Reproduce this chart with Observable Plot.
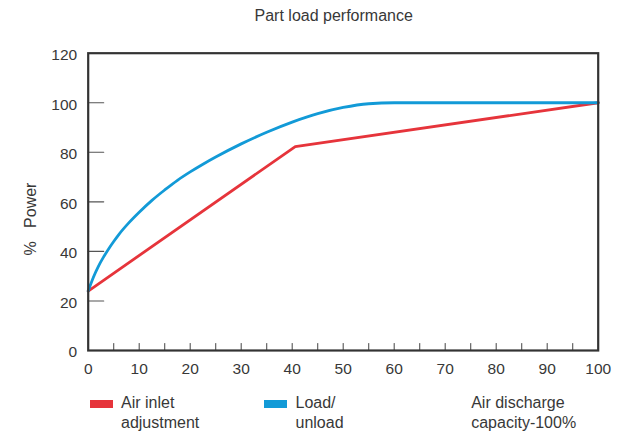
<!DOCTYPE html>
<html>
<head>
<meta charset="utf-8">
<script src="https://cdn.jsdelivr.net/npm/d3@7"></script>
<script src="https://cdn.jsdelivr.net/npm/@observablehq/plot@0.6"></script>
<style>
  html, body { margin: 0; padding: 0; background: #fff; }
  #wrap { position: relative; width: 639px; height: 434px; font-family: "Liberation Sans", Arial, Helvetica, sans-serif; color: #383838; }
  #wrap svg { position: absolute; left: 0; top: 0; }
  .title { position: absolute; top: 6px; left: 333.7px; transform: translateX(-50%); font-size: 16px; line-height: 20px; white-space: nowrap; }
  .ylab { position: absolute; left: 30.9px; top: 219px; transform: translate(-50%, -50%) rotate(-90deg); font-size: 16px; line-height: 16px; white-space: pre; }
  .leg { position: absolute; top: 392.8px; font-size: 16px; line-height: 19.8px; white-space: nowrap; }
  .sw { position: absolute; top: 400.3px; width: 23px; height: 7.4px; }
</style>
</head>
<body>
<div id="wrap"></div>
<script>
// ---- data ----
const titleText = "Part load performance";
const yLabel = "%   Power";
const xTicks = [0, 10, 20, 30, 40, 50, 60, 70, 80, 90, 100];
const yTicks = [0, 20, 40, 60, 80, 100, 120];
const xMinorTicks = [5, 10, 15, 20, 25, 30, 35, 40, 45, 50, 55, 60, 65, 70, 75, 80, 85, 90, 95];
const yInnerTicks = [20, 40, 60, 80, 100];

// Air inlet adjustment (red)
const inletX = [0, 40.6, 100];
const inletY = [24, 82.3, 100];

// Load/unload (blue)
const loadX = [0, 1, 2, 3, 4, 5, 6, 8, 10, 12.5, 15, 17.5, 20, 22.5, 25, 30, 35, 40, 45, 50, 55, 60, 100];
const loadY = [24, 29.5, 34, 37.7, 41, 44, 46.8, 51.6, 55.8, 60.6, 64.8, 68.7, 72.1, 75.2, 78.1, 83.4, 88.1, 92.2, 95.6, 98.1, 99.6, 100, 100];

const legendItems = [
  {label: ["Air inlet", "adjustment"], color: "#e6343b"},
  {label: ["Load/", "unload"], color: "#129ad7"},
  {label: ["Air discharge", "capacity-100%"], color: null}
];

const inlet = inletX.map((x, i) => ({x, y: inletY[i]}));
const load = loadX.map((x, i) => ({x, y: loadY[i]}));

const tickLine = {draw(context, l) { context.moveTo(0, 0); context.lineTo(0, -l); }};

const chart = Plot.plot({
  width: 639,
  height: 434,
  marginLeft: 87.7,
  marginRight: 41.3,
  marginTop: 52.7,
  marginBottom: 84,
  style: {fontFamily: "'Liberation Sans', Arial, Helvetica, sans-serif", color: "#383838", background: "transparent"},
  x: {domain: [0, 100]},
  y: {domain: [0, 120]},
  marks: [
    Plot.axisY(yTicks, {tickSize: 0, tickPadding: 11, fontSize: 15.5, fill: "#383838", dy: 2, label: null}),
    Plot.axisX(xTicks, {tickSize: 0, tickPadding: 12.5, fontSize: 15.5, fill: "#383838", label: null}),
    Plot.vector(yInnerTicks, {y: d => d, frameAnchor: "left", length: 15.5, rotate: 90, anchor: "start", shape: tickLine, stroke: "#555", strokeWidth: 1.1}),
    Plot.vector(xMinorTicks, {x: d => d, frameAnchor: "bottom", length: 7, rotate: 0, anchor: "start", shape: tickLine, stroke: "#555", strokeWidth: 1.1}),
    Plot.line(inlet, {x: "x", y: "y", stroke: legendItems[0].color, strokeWidth: 2.8}),
    Plot.line(load, {x: "x", y: "y", stroke: legendItems[1].color, strokeWidth: 2.8, curve: "monotone-x"}),
    Plot.frame({stroke: "#333", strokeWidth: 2.2})
  ]
});

const wrap = document.getElementById("wrap");
wrap.appendChild(chart);

const t = document.createElement("div");
t.className = "title";
t.textContent = titleText;
wrap.appendChild(t);

const yl = document.createElement("div");
yl.className = "ylab";
yl.textContent = yLabel;
wrap.appendChild(yl);

const swatchLeft = [90.3, 264.3, null];
const textLeft = [121, 295.5, 471.2];
legendItems.forEach((item, i) => {
  if (item.color) {
    const s = document.createElement("div");
    s.className = "sw";
    s.style.left = swatchLeft[i] + "px";
    s.style.background = item.color;
    wrap.appendChild(s);
  }
  const d = document.createElement("div");
  d.className = "leg";
  d.style.left = textLeft[i] + "px";
  d.innerHTML = item.label.join("<br>");
  wrap.appendChild(d);
});
</script>
</body>
</html>
